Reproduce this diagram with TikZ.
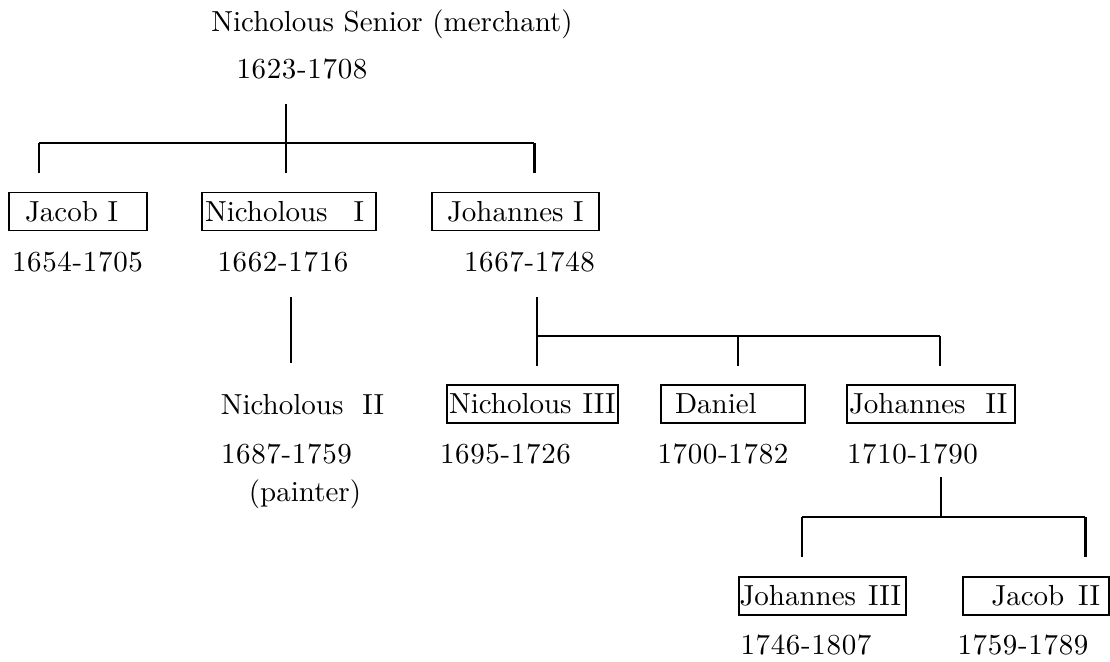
\documentclass[tikz,border=0pt]{standalone}
\usepackage{fontspec}
\setmainfont{lmroman10-regular.otf}
\tikzset{
  person/.style={font=\fontsize{29}{33}\selectfont, inner sep=0pt},
  years/.style={font=\fontsize{29}{33}\selectfont\addfontfeatures{LetterSpace=2.3}, inner sep=0pt},
  namebox/.style={person, draw, line width=1.2pt, minimum height=38pt, align=left},
  stem/.style={line width=1.3pt},
  bar/.style={line width=2.2pt},
  thickdrop/.style={line width=3pt}
}

\begin{document}
\begin{tikzpicture}[x=1pt,y=-1pt]
  \useasboundingbox (0,0) rectangle (1110,661);

  % founder
  \node[person] (senior) at (392,24) {Nicholous Senior (merchant)};
  \node[years] (seniord) at (302,69) {1623-1708};

  % first generation
  \node[namebox, text width=106, inner xsep=16] (jacobI) at (78,211.5) {Jacob I};
  \node[namebox, text width=168, inner xsep=3] (nichI) at (289,211.5) {Nicholous\hspace{26pt}I};
  \node[namebox, text width=137, inner xsep=15] (johI) at (515.5,211.5) {Johannes I};
  \node[years] (jacobId) at (77.5,262) {1654-1705};
  \node[years] (nichId) at (283,262) {1662-1716};
  \node[years] (johId) at (529.5,262) {1667-1748};

  \coordinate (t1) at (286,104);
  \coordinate (b1l) at (39,143);
  \coordinate (b1r) at (534,143);
  \draw[stem] (t1) -- (286,173);
  \draw[bar] (b1l) -- (b1r);
  \draw[bar] (b1l) -- (39,173);
  \draw[thickdrop] (b1r) -- (534,173);

  % second generation
  \coordinate (t2) at (291,297);
  \draw[stem] (t2) -- (291,363);
  \node[person] (nichII) at (302.5,405) {Nicholous\hspace{19pt}II};
  \node[years] (nichIId) at (286.5,454) {1687-1759};
  \node[person] (painter) at (305,494) {(painter)};

  \node[namebox, text width=167, inner xsep=2] (nichIII) at (532.5,404) {Nicholous\hspace{11pt}III};
  \node[namebox, text width=116, inner xsep=14] (daniel) at (733,404) {Daniel};
  \node[namebox, text width=164, inner xsep=2] (johII) at (931,404) {Johannes\hspace{20pt}II};
  \node[years] (nichIIId) at (505.5,454) {1695-1726};
  \node[years] (danield) at (723,454) {1700-1782};
  \node[years] (johIId) at (912.5,454) {1710-1790};

  \coordinate (t3) at (537,297);
  \coordinate (b3l) at (537,336);
  \coordinate (b3r) at (940,336);
  \draw[stem] (t3) -- (537,366);
  \draw[bar] (b3l) -- (b3r);
  \draw[stem] (738,336) -- (738,366);
  \draw[bar] (b3r) -- (940,366);

  % third generation
  \node[namebox, text width=166, inner xsep=0.5] (johIII) at (822.5,596) {Johannes\hspace{12pt}III};
  \node[namebox, text width=128, inner xsep=9, align=right] (jacobII) at (1036,596) {Jacob\hspace{14pt}II};
  \node[years] (johIIId) at (806,645) {1746-1807};
  \node[years] (jacobIId) at (1023,645) {1759-1789};

  \coordinate (t4) at (941,477);
  \coordinate (b4l) at (802,517);
  \coordinate (b4r) at (1085,517);
  \draw[stem] (t4) -- (941,517);
  \draw[bar] (b4l) -- (b4r);
  \draw[bar] (b4l) -- (802,557);
  \draw[thickdrop] (b4r) -- (1085,557);
\end{tikzpicture}
\end{document}
